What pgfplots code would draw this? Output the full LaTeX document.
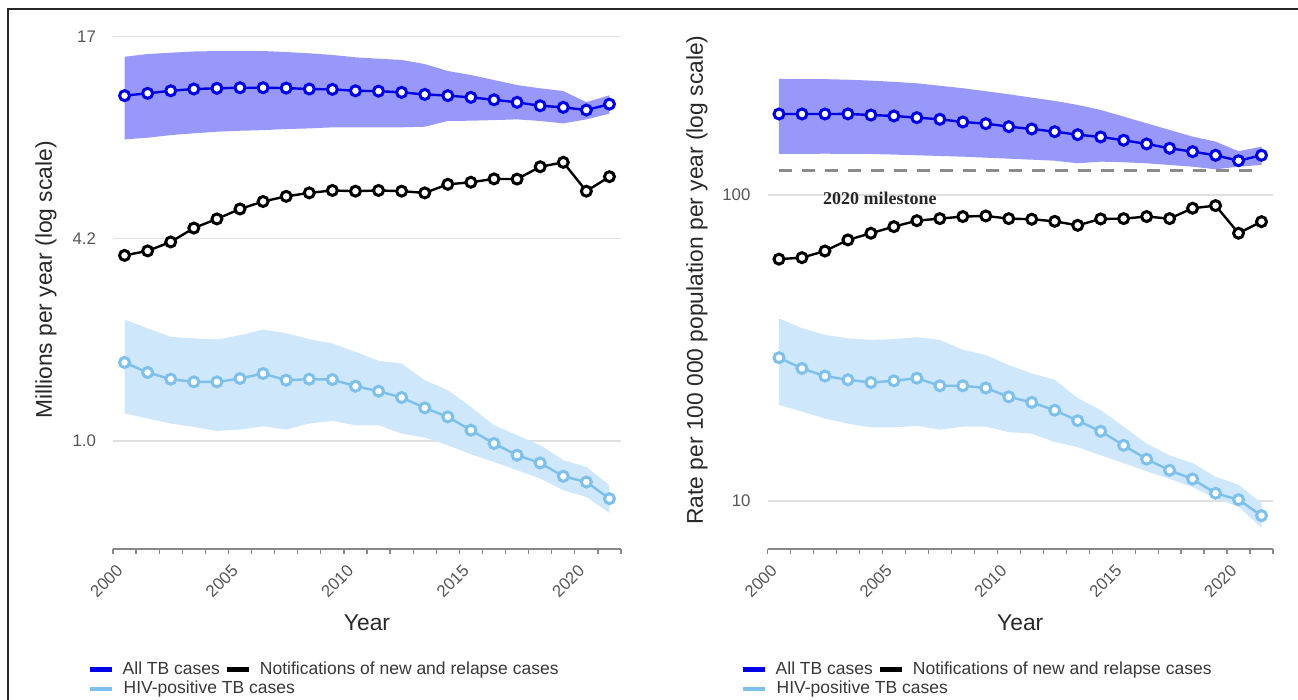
\documentclass[border=0pt]{standalone}
\usepackage{pgfplots}
\pgfplotsset{compat=1.18}
\usepackage{pgfplotstable}
\usepgfplotslibrary{fillbetween}
\usepackage{fontspec}
\setmainfont{Liberation Sans}
\newfontfamily\msfont{Liberation Serif}

\definecolor{bandblue}{RGB}{152,152,250}
\definecolor{tbblue}{RGB}{0,0,230}
\definecolor{hivband}{RGB}{206,231,250}
\definecolor{hivline}{RGB}{125,192,236}
\definecolor{milegray}{RGB}{140,140,140}
\definecolor{gridgray}{RGB}{224,224,224}
\definecolor{axisgray}{RGB}{135,135,135}
\definecolor{tickgray}{RGB}{85,85,85}
\definecolor{labgray}{RGB}{40,40,40}
\definecolor{leggray}{RGB}{55,55,55}

% Left panel: millions per year
\pgfplotstableread{
year all allhi alllo notif hiv hivhi hivlo
2000 11.47 15.10 8.42 3.71 1.741 2.359 1.214
2001 11.66 15.39 8.52 3.83 1.622 2.214 1.172
2002 11.87 15.54 8.68 4.08 1.547 2.086 1.131
2003 12.02 15.67 8.79 4.50 1.518 2.063 1.104
2004 12.08 15.72 8.89 4.80 1.518 2.048 1.073
2005 12.13 15.72 8.95 5.15 1.554 2.111 1.084
2006 12.13 15.72 8.99 5.43 1.610 2.198 1.109
2007 12.10 15.61 9.06 5.63 1.536 2.141 1.084
2008 12.02 15.47 9.10 5.77 1.547 2.052 1.131
2009 11.99 15.29 9.17 5.87 1.543 1.991 1.152
2010 11.87 15.04 9.17 5.84 1.472 1.877 1.117
2011 11.84 14.89 9.17 5.87 1.421 1.761 1.117
2012 11.74 14.76 9.17 5.84 1.359 1.728 1.054
2013 11.57 14.34 9.21 5.77 1.263 1.536 1.024
2014 11.47 13.65 9.59 6.13 1.185 1.431 0.970
2015 11.33 13.27 9.61 6.22 1.079 1.272 0.910
2016 11.14 12.81 9.65 6.37 0.982 1.117 0.862
2017 10.94 12.36 9.70 6.36 0.904 1.041 0.813
2018 10.68 12.08 9.59 6.94 0.856 0.970 0.767
2019 10.56 11.85 9.43 7.16 0.779 0.872 0.706
2020 10.36 10.95 9.70 5.84 0.748 0.832 0.673
2021 10.80 11.50 10.10 6.47 0.665 0.731 0.601
}\lefttab

% Right panel: rate per 100 000 population
\pgfplotstableread{
year all allhi alllo notif hiv hivhi hivlo
2000 183.9 239.3 136.1 61.7 29.4 39.5 20.6
2001 183.9 239.2 136.2 62.4 27.1 36.7 19.6
2002 183.9 239.0 136.4 65.6 25.6 34.9 18.6
2003 184.0 238.0 136.2 71.3 24.9 34.0 17.9
2004 182.5 236.4 136.1 75.0 24.4 33.6 17.4
2005 181.2 234.2 135.5 78.8 24.7 33.8 17.4
2006 178.9 231.7 134.8 82.4 25.2 34.3 17.6
2007 176.7 227.5 134.1 83.7 23.8 33.6 17.1
2008 173.2 223.2 133.4 85.0 23.8 31.2 17.5
2009 171.0 218.3 132.4 85.4 23.4 30.0 17.5
2010 167.2 213.3 131.4 83.7 21.9 27.8 16.8
2011 164.3 208.0 130.4 83.3 21.0 26.1 16.6
2012 161.0 202.9 129.4 82.0 19.8 24.9 15.6
2013 157.4 196.9 126.9 79.6 18.3 21.7 15.0
2014 154.7 189.6 128.5 83.5 16.9 19.8 14.1
2015 150.9 180.3 127.9 83.7 15.2 17.5 13.3
2016 146.8 171.5 126.9 85.0 13.7 15.4 12.5
2017 142.1 163.1 125.3 83.7 12.6 14.1 11.8
2018 138.5 155.1 123.7 90.5 11.8 13.3 11.1
2019 134.8 149.4 121.3 92.3 10.6 12.0 10.2
2020 129.4 139.0 123.7 75.0 10.1 11.3 9.58
2021 134.8 143.8 125.3 81.8 8.96 9.83 8.18
}\righttab

\pgfplotsset{
  tbpanel/.style={
    scale only axis, anchor=south west,
    xmin=1999.5, xmax=2021.5,
    xtick={2000,2005,2010,2015,2020},
    xticklabels={2000,2005,2010,2015,2020},
    minor xtick={1999.5,2000.5,...,2021.5},
    major tick length=0pt, minor tick length=2.6pt,
    tick align=outside,
    axis x line*=bottom, axis y line*=left,
    y axis line style={draw=none},
    x axis line style={draw=axisgray, line width=0.8pt, -},
    xtick style={draw=axisgray, line width=0.6pt},
    ytick style={draw=none},
    yminorticks=false,
    ymajorgrids, grid style={draw=gridgray, line width=0.6pt},
    xticklabel shift=7pt,
    xticklabel style={rotate=45, anchor=east, font=\fontsize{8.4}{10}\selectfont, text=tickgray},
    yticklabel style={font=\fontsize{8.4}{10}\selectfont, text=tickgray, xshift=-5pt},
    xlabel={Year},
    xlabel style={at={(axis description cs:0.5,-0.144)}, anchor=center, font=\fontsize{11.4}{13}\selectfont, text=labgray},
    ylabel style={anchor=center, font=\fontsize{11.4}{13}\selectfont, text=labgray},
    legend columns=2,
    legend cell align=left,
    legend image code/.code={\draw[##1, line width=2.2pt] (0pt,0pt) -- (11pt,0pt);},
    legend style={at={(axis description cs:0,0)}, anchor=north west, yshift=-56pt,
      draw=none, fill=none, inner sep=0pt, font=\fontsize{8.75}{10}\selectfont, text=leggray,
      row sep=1.4pt, nodes={inner sep=0pt, text height=6.4pt, text depth=1.8pt},
      /tikz/every odd column/.append style={column sep=4.2pt},
      /tikz/every even column/.append style={column sep=2.6pt}},
  },
  lineA/.style={tbblue, line width=1.2pt, mark=*, mark size=2.5pt, mark options={fill=white, draw=tbblue, line width=1.5pt}},
  lineN/.style={black, line width=1.2pt, mark=*, mark size=2.5pt, mark options={fill=white, draw=black, line width=1.5pt}},
  lineH/.style={hivline, line width=1.2pt, mark=*, mark size=2.5pt, mark options={fill=white, draw=hivline, line width=1.5pt}},
}

\begin{document}
\begin{tikzpicture}

% ---------------- Left panel ----------------
\begin{axis}[tbpanel, ymode=log,
  at={(56.5pt,75.5pt)}, width=254pt, height=256.15pt,
  ymin=0.466, ymax=17.4,
  ytick={1,4.17,17.4}, yticklabels={1.0,4.2,17},
  ylabel={Millions per year (log scale)},
  ylabel style={at={(axis description cs:-0.132,0.525)}},
  legend style={xshift=-12.75pt},
]
\addlegendimage{tbblue}
\addlegendentry{All TB cases}
\addlegendimage{black}
\addlegendentry{Notifications of new and relapse cases}
\addlegendimage{hivline}
\addlegendentry{\makebox[0pt][l]{HIV-positive TB cases}}

\addplot[name path=ahi, draw=none, forget plot] table[x=year, y=allhi] {\lefttab};
\addplot[name path=alo, draw=none, forget plot] table[x=year, y=alllo] {\lefttab};
\addplot[fill=bandblue, draw=none, forget plot] fill between[of=ahi and alo];
\addplot[name path=hhi, draw=none, forget plot] table[x=year, y=hivhi] {\lefttab};
\addplot[name path=hlo, draw=none, forget plot] table[x=year, y=hivlo] {\lefttab};
\addplot[fill=hivband, draw=none, forget plot] fill between[of=hhi and hlo];

\addplot[lineA, forget plot] table[x=year, y=all] {\lefttab};
\addplot[lineN, forget plot] table[x=year, y=notif] {\lefttab};
\addplot[lineH, forget plot] table[x=year, y=hiv] {\lefttab};
\end{axis}

% ---------------- Right panel ----------------
\begin{axis}[tbpanel, ymode=log,
  at={(383.75pt,75.5pt)}, width=252.75pt, height=256.15pt,
  ymin=6.97, ymax=329,
  ytick={10,100}, yticklabels={10,100},
  ylabel={Rate per 100 000 population per year (log scale)},
  ylabel style={at={(axis description cs:-0.1395,0.525)}},
  legend style={xshift=-13.5pt},
]
\addlegendimage{tbblue}
\addlegendentry{All TB cases}
\addlegendimage{black}
\addlegendentry{Notifications of new and relapse cases}
\addlegendimage{hivline}
\addlegendentry{\makebox[0pt][l]{HIV-positive TB cases}}

\addplot[name path=ahi, draw=none, forget plot] table[x=year, y=allhi] {\righttab};
\addplot[name path=alo, draw=none, forget plot] table[x=year, y=alllo] {\righttab};
\addplot[fill=bandblue, draw=none, forget plot] fill between[of=ahi and alo];
\addplot[name path=hhi, draw=none, forget plot] table[x=year, y=hivhi] {\righttab};
\addplot[name path=hlo, draw=none, forget plot] table[x=year, y=hivlo] {\righttab};
\addplot[fill=hivband, draw=none, forget plot] fill between[of=hhi and hlo];

\addplot[milegray, line width=1.5pt, dash pattern=on 6.5pt off 5pt, forget plot] coordinates {(2000,120) (2021,120)};
\node[anchor=west, inner sep=0pt, font=\msfont\bfseries\fontsize{9}{11}\selectfont, text=black!85] at (axis cs:2001.9,97.6) {2020 milestone};

\addplot[lineA, forget plot] table[x=year, y=all] {\righttab};
\addplot[lineN, forget plot] table[x=year, y=notif] {\righttab};
\addplot[lineH, forget plot] table[x=year, y=hiv] {\righttab};
\end{axis}

% frame
\draw[line width=1.3pt, black!85] (4pt,0pt) -- (4pt,345.5pt) -- (649pt,345.5pt);
\pgfresetboundingbox
\useasboundingbox (0,0) rectangle (649pt,350pt);
\end{tikzpicture}
\end{document}
